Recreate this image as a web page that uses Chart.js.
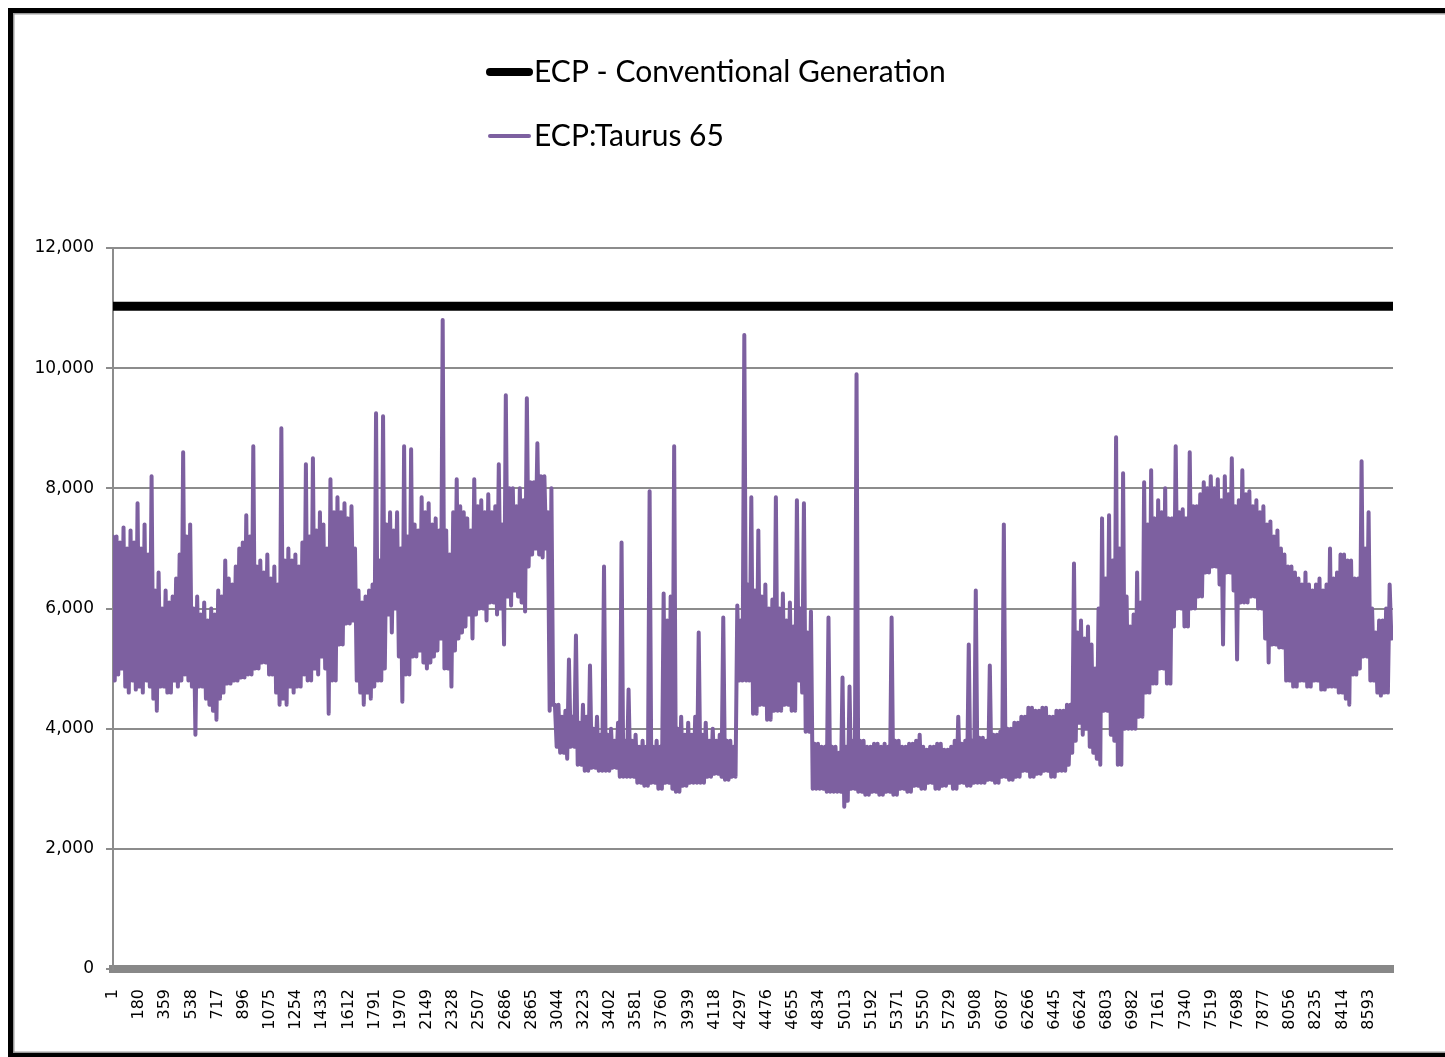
<!DOCTYPE html>
<html>
<head>
<meta charset="utf-8">
<script src="https://cdn.jsdelivr.net/npm/chart.js@4.4.1/dist/chart.umd.min.js"></script>
<style>
  html, body { margin: 0; padding: 0; background: #fff; }
</style>
</head>
<body>
<canvas id="ecpChart" width="1445" height="1057"></canvas>
<script>
const seriesLabels = ['ECP - Conventional Generation', 'ECP:Taurus 65'];

// hour-of-year tick labels shown under the axis
const xTickLabels = [1, 180, 359, 538, 717, 896, 1075, 1254, 1433, 1612, 1791, 1970, 2149, 2328,
  2507, 2686, 2865, 3044, 3223, 3402, 3581, 3760, 3939, 4118, 4297, 4476, 4655, 4834, 5013, 5192,
  5371, 5550, 5729, 5908, 6087, 6266, 6445, 6624, 6803, 6982, 7161, 7340, 7519, 7698, 7877, 8056,
  8235, 8414, 8593];
const yTicks = [0, 2000, 4000, 6000, 8000, 10000, 12000];

// flat conventional generation level (start and end hour)
const conventionalHours = [1, 8760];
const conventionalGen = [11030, 11030];

// Taurus 65 load: day peak then night low, every 12 hours
const taurusStep = 12;
const taurus65 = [
  7200, 4800, 7200, 4900, 7100, 5000, 7350, 4700, 7000, 4600, 7300, 4800, 7100, 4650, 7750, 4700, 7000, 4600, 7400, 4800,
  6900, 4700, 8200, 4500, 6300, 4300, 6600, 4700, 6000, 4700, 6300, 4600, 6100, 4600, 6200, 4800, 6500, 4700, 6900, 4800,
  8600, 4900, 7200, 4800, 7400, 4700, 6000, 3900, 6200, 4700, 5900, 4700, 6100, 4500, 5800, 4400, 6000, 4300, 5900, 4150,
  6300, 4500, 6200, 4600, 6800, 4750, 6500, 4750, 6400, 4800, 6700, 4800, 7000, 4850, 7100, 4850, 7550, 4900, 7200, 4900,
  8700, 5000, 6700, 5000, 6800, 5100, 6600, 5100, 6900, 4900, 6500, 4900, 6700, 4600, 6400, 4400, 9000, 4500, 6800, 4400,
  7000, 4700, 6800, 4600, 6900, 4700, 6700, 4700, 7100, 4900, 8400, 4800, 7200, 4800, 8500, 5000, 7300, 4900, 7600, 5200,
  7400, 5000, 7000, 4250, 8150, 4800, 7600, 4800, 7850, 5400, 7600, 5400, 7750, 5750, 7500, 5750, 7700, 5800, 7000, 4800,
  6300, 4600, 6100, 4400, 6200, 4600, 6300, 4500, 6400, 4700, 9250, 4800, 6800, 4800, 9200, 5000, 7400, 5900, 7600, 5600,
  7300, 6000, 7600, 5200, 7000, 4450, 8700, 4900, 7200, 4900, 8650, 5200, 7400, 5200, 7300, 5300, 7850, 5100, 7600, 5000,
  7750, 5100, 7400, 5200, 7500, 5300, 7300, 5500, 10800, 5000, 7300, 5000, 6900, 4700, 7600, 5300, 8150, 5500, 7700, 5600,
  7600, 5700, 7500, 5900, 7300, 5500, 8150, 5900, 7700, 6000, 7800, 6000, 7600, 5800, 7900, 6100, 7600, 6100, 7700, 5900,
  8400, 6000, 7400, 5400, 9550, 6200, 8000, 6050, 8000, 6300, 7700, 6200, 8000, 6100, 7800, 5950, 9500, 6700, 8100, 6900,
  8100, 7000, 8750, 6900, 8200, 6850, 8200, 7000, 7600, 4300, 8000, 4400, 4400, 3700, 4400, 3600, 4200, 3600, 4300, 3500,
  5150, 3700, 4200, 3700, 5550, 3400, 4100, 3400, 4400, 3300, 4200, 3300, 5050, 3350, 4000, 3350, 4200, 3300, 3900, 3300,
  6700, 3300, 3900, 3300, 4000, 3350, 3800, 3350, 4100, 3200, 7100, 3200, 3800, 3200, 4650, 3200, 3800, 3200, 3900, 3100,
  3700, 3100, 3800, 3050, 3700, 3050, 7950, 3100, 3700, 3100, 3800, 3000, 3700, 3000, 6250, 3100, 5800, 3100, 6200, 3000,
  8700, 2950, 4000, 2950, 4200, 3050, 3900, 3050, 4100, 3100, 3900, 3100, 4200, 3100, 5600, 3100, 3900, 3100, 4100, 3200,
  3800, 3200, 4000, 3250, 3800, 3250, 3900, 3200, 5850, 3150, 3800, 3150, 3800, 3200, 3700, 3200, 6050, 4800, 5800, 4800,
  10550, 4800, 6400, 4800, 7850, 4250, 6300, 4250, 7300, 4400, 6200, 4400, 6400, 4150, 6000, 4150, 6150, 4300, 7850, 4300,
  6000, 4300, 6250, 4400, 5800, 4400, 6100, 4300, 5700, 4300, 7800, 4800, 6000, 4600, 7750, 3950, 5600, 3950, 5950, 3000,
  3750, 3000, 3750, 3000, 3700, 3000, 3700, 2950, 5850, 2950, 3700, 2950, 3700, 2950, 3600, 2950, 4850, 2700, 3700, 2800,
  4700, 3000, 3800, 3000, 9900, 2950, 3800, 2950, 3800, 2900, 3700, 2900, 3700, 2950, 3750, 2950, 3750, 2900, 3700, 2900,
  3750, 2950, 3700, 2950, 5850, 2900, 3800, 2900, 3800, 3000, 3700, 3000, 3700, 2950, 3750, 2950, 3750, 3050, 3800, 3050,
  3900, 3000, 3700, 3000, 3650, 3100, 3700, 3100, 3700, 3000, 3750, 3000, 3750, 3050, 3650, 3050, 3650, 3100, 3700, 3000,
  3800, 3000, 4200, 3100, 3750, 3100, 3800, 3050, 5400, 3050, 3800, 3100, 6300, 3100, 3850, 3100, 3850, 3100, 3800, 3150,
  5050, 3150, 3900, 3100, 3900, 3100, 3950, 3200, 7400, 3200, 4000, 3150, 4000, 3150, 4100, 3200, 4100, 3200, 4200, 3300,
  4200, 3300, 4350, 3200, 4350, 3200, 4300, 3250, 4300, 3250, 4350, 3300, 4350, 3300, 4200, 3200, 4200, 3200, 4300, 3300,
  4300, 3300, 4300, 3300, 4400, 3400, 4400, 3600, 6750, 3800, 5600, 4100, 5800, 3900, 5500, 4000, 5700, 3700, 5400, 3600,
  5000, 3500, 6000, 3400, 7500, 4300, 6500, 4300, 7550, 3900, 6800, 3800, 8850, 3400, 7000, 3400, 8250, 4000, 6200, 4000,
  5700, 4000, 5900, 4000, 6600, 4200, 6100, 4200, 8100, 4600, 7400, 4600, 8300, 4750, 7500, 4750, 7800, 5000, 7600, 5000,
  8000, 4750, 7500, 4750, 7500, 5700, 8700, 6000, 7600, 6000, 7650, 5700, 7500, 5700, 8600, 6000, 7700, 6000, 7700, 6200,
  7900, 6200, 8100, 6600, 8000, 6600, 8200, 6700, 8000, 6700, 8150, 6400, 7800, 5400, 8200, 6600, 7900, 6600, 8500, 6300,
  7700, 5150, 7800, 6100, 8300, 6100, 7900, 6100, 7950, 6200, 7700, 6200, 7800, 6000, 7600, 6000, 7700, 5500, 7400, 5100,
  7450, 5400, 7200, 5400, 7300, 5350, 7000, 5350, 6900, 4800, 6700, 4800, 6700, 4700, 6600, 4700, 6500, 4800, 6400, 4800,
  6600, 4700, 6400, 4700, 6300, 4800, 6400, 4800, 6500, 4650, 6300, 4650, 6400, 4700, 7000, 4700, 6500, 4700, 6600, 4600,
  6900, 4600, 6900, 4500, 6800, 4400, 6800, 4900, 6500, 4900, 6500, 5000, 8450, 5200, 7000, 5200, 7600, 4800, 6000, 4800,
  5600, 4600, 5800, 4550, 5800, 4600, 6000, 4600, 6400, 5500
];

const seriesColors = ['#000000', '#7d60a0'];
const yFont = { family: 'DejaVu Sans', size: 17 };
const xFont = { family: 'DejaVu Sans', size: 16 };

// white page with the black frame round it
const framePlugin = {
  id: 'frame',
  beforeDraw(chart) {
    const ctx = chart.ctx;
    ctx.save();
    ctx.fillStyle = '#fff';
    ctx.fillRect(0, 0, chart.width, chart.height);
    ctx.strokeStyle = '#000';
    ctx.lineWidth = 5;
    ctx.strokeRect(10.5, 10.5, chart.width + 20, 1045);
    ctx.strokeStyle = '#9a9a9a';
    ctx.lineWidth = 1.5;
    ctx.strokeRect(13.75, 13.75, chart.width + 20, 1038.5);
    ctx.restore();
  }
};

// legend stacked in two rows, as in the original
const stackedLegend = {
  id: 'stackedLegend',
  afterDraw(chart) {
    const ctx = chart.ctx;
    const rows = [72, 136];
    ctx.save();
    ctx.font = '30px Lato, "Open Sans", sans-serif';
    ctx.textBaseline = 'middle';
    chart.data.datasets.forEach((ds, i) => {
      const y = rows[i];
      ctx.strokeStyle = ds.borderColor;
      ctx.lineCap = 'round';
      ctx.lineWidth = i === 0 ? 8 : 4;
      ctx.beginPath();
      ctx.moveTo(490, y);
      ctx.lineTo(529, y);
      ctx.stroke();
      ctx.fillStyle = '#000';
      ctx.fillText(ds.label, 534, y);
    });
    ctx.restore();
  }
};

new Chart(document.getElementById('ecpChart'), {
  type: 'line',
  data: {
    datasets: [
      {
        label: seriesLabels[0],
        data: conventionalHours.map((h, i) => ({ x: h, y: conventionalGen[i] })),
        borderColor: seriesColors[0],
        borderWidth: 9,
        pointRadius: 0,
        order: 0
      },
      {
        label: seriesLabels[1],
        data: taurus65.map((v, i) => ({ x: 1 + i * taurusStep, y: v })),
        borderColor: seriesColors[1],
        borderWidth: 4,
        borderJoinStyle: 'round',
        borderCapStyle: 'round',
        pointRadius: 0,
        order: 1
      }
    ]
  },
  options: {
    responsive: false,
    animation: false,
    layout: { padding: { top: 248, right: 52, left: 0, bottom: 0 } },
    plugins: {
      legend: { display: false },
      tooltip: { enabled: false }
    },
    scales: {
      x: {
        type: 'linear',
        min: 1,
        max: 8760,
        afterBuildTicks: s => { s.ticks = xTickLabels.map(v => ({ value: v })); },
        afterFit: s => { s.height = 88; },
        grid: { display: false, drawTicks: false },
        border: { color: '#888888', width: 8 },
        ticks: {
          autoSkip: false,
          minRotation: 90,
          maxRotation: 90,
          padding: 20,
          color: '#000',
          font: xFont,
          callback: v => String(v)
        }
      },
      y: {
        min: 0,
        max: 12000,
        afterBuildTicks: s => { s.ticks = yTicks.map(v => ({ value: v })); },
        afterFit: s => { s.width = 113; },
        grid: { color: '#8c8c8c', lineWidth: 2, tickLength: 7 },
        border: { color: '#8c8c8c', width: 2 },
        ticks: {
          padding: 12,
          color: '#000',
          font: yFont,
          callback: v => v.toLocaleString('en-US')
        }
      }
    }
  },
  plugins: [framePlugin, stackedLegend]
});
</script>
</body>
</html>
